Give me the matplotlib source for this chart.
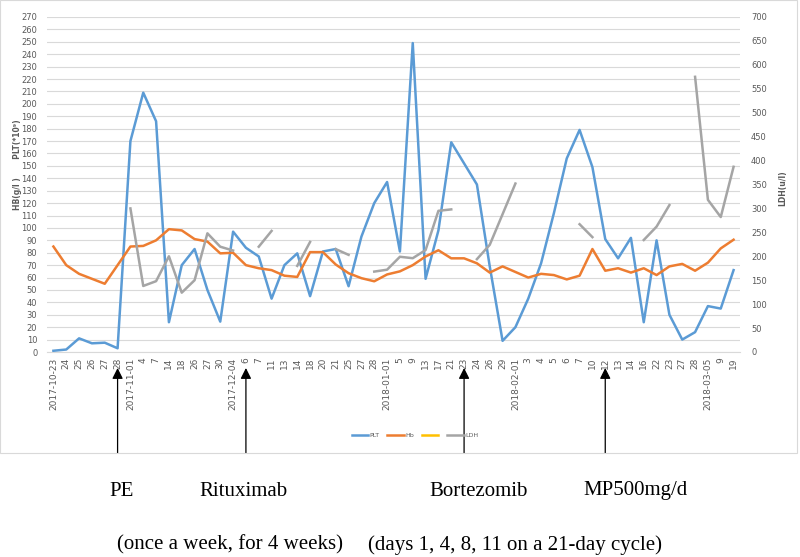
import matplotlib
matplotlib.use('Agg')
import matplotlib.pyplot as plt
from matplotlib.lines import Line2D
from matplotlib.patches import Rectangle
import numpy as np

# sampling dates (category axis)
dates = [
    '2017-10-23', '2017-10-24', '2017-10-25', '2017-10-26', '2017-10-27', '2017-10-28',
    '2017-11-01', '2017-11-04', '2017-11-07', '2017-11-14', '2017-11-18', '2017-11-26',
    '2017-11-27', '2017-11-30',
    '2017-12-04', '2017-12-06', '2017-12-07', '2017-12-11', '2017-12-13', '2017-12-14',
    '2017-12-18', '2017-12-20', '2017-12-21', '2017-12-25', '2017-12-27', '2017-12-28',
    '2018-01-01', '2018-01-05', '2018-01-09', '2018-01-13', '2018-01-17', '2018-01-21',
    '2018-01-23', '2018-01-24', '2018-01-26', '2018-01-29',
    '2018-02-01', '2018-02-03', '2018-02-04', '2018-02-05', '2018-02-06', '2018-02-07',
    '2018-02-10', '2018-02-12', '2018-02-13', '2018-02-14', '2018-02-16', '2018-02-22',
    '2018-02-23', '2018-02-27', '2018-02-28',
    '2018-03-05', '2018-03-09', '2018-03-19',
]

plt_vals = [1, 2, 11, 7, 7.5, 3, 170, 209, 186, 24, 70, 83, 50, 24.5,
            97, 84, 77, 43, 70, 79.5, 45, 81, 83, 53, 93, 120,
            137, 81, 249, 59, 98, 169, 152, 135, 69, 9,
            20, 43, 71.5, 112, 156, 179, 149, 91, 75.5, 92, 24, 90,
            30, 10, 16, 37, 35, 66]

hb_vals = [85, 70, 63, 59, 55, 70, 85, 85.5, 90, 99, 98, 91, 89, 79.5,
           80, 70, 67.5, 66, 61.5, 60.5, 80.5, 80.5, 70.5, 63.5, 59.5, 57,
           62.5, 65, 70, 77, 82, 75.5, 75.5, 71.5, 64, 69,
           64.5, 60, 63, 62, 58.5, 61.5, 83, 65.5, 67.5, 64, 67.5, 62,
           69, 71, 65.5, 72, 83.5, 90.5]

nan = np.nan
ldh_vals = [nan, nan, nan, nan, nan, nan, 300, 138, 148, 200, 124, 150, 248, 220,
            212, nan, 220, 253, nan, 180, 230, nan, 215, 203, nan, 168,
            172, 199, 196, 213, 295, 298, nan, 194, 224, 288,
            352, nan, nan, nan, nan, 267, 240, nan, nan, nan, 234, 262,
            307, nan, 575, 318, 282, 387]

treat_names = ['PE', 'Rituximab', 'Bortezomib', 'MP500mg/d']
treat_dates = ['2017-10-28', '2017-12-06', '2018-01-23', '2018-02-12']

# first date of each month is shown in full, the rest as day numbers
tick_labels = []
prev_month = None
for d in dates:
    month = d[:7]
    tick_labels.append(d if month != prev_month else str(int(d[8:])))
    prev_month = month

x = np.arange(len(dates))
W, H = 800, 557
c_plt, c_hb, c_yel, c_ldh = '#5B9BD5', '#ED7D31', '#FFC000', '#A5A5A5'
txt_gray = '#595959'

fig = plt.figure(figsize=(W / 100, H / 100), dpi=100)
fig.patch.set_facecolor('white')
fig.patches.append(Rectangle((0, 1 - 453 / H), 797 / W, 453 / H, transform=fig.transFigure,
                             fill=False, edgecolor='#D9D9D9', linewidth=0.8))

ax = fig.add_axes([47 / W, 1 - 352 / H, 693 / W, 335 / H])
ax2 = ax.twinx()

ax.plot(x, plt_vals, color=c_plt, lw=1.8, zorder=3)
ax.plot(x, hb_vals, color=c_hb, lw=1.8, zorder=3)
ax2.plot(x, ldh_vals, color=c_ldh, lw=1.8, zorder=3)

ax.set_xlim(-0.5, len(dates) - 0.5)
ax.set_ylim(0, 270)
ax2.set_ylim(0, 700)
ax.set_yticks(np.arange(0, 271, 10))
ax2.set_yticks(np.arange(0, 701, 50))
ax.yaxis.grid(True, color='#D9D9D9', lw=0.8)
ax.set_axisbelow(True)

ax.set_xticks(x)
ax.set_xticklabels(tick_labels, rotation=90, fontsize=6.5, color=txt_gray)
ax.tick_params(axis='x', length=0, pad=4)
ax.tick_params(axis='y', length=0, labelsize=6, labelcolor=txt_gray, pad=7)
ax2.tick_params(axis='y', length=0, labelsize=6, labelcolor=txt_gray, pad=8)

for a in (ax, ax2):
    for s in a.spines.values():
        s.set_visible(False)
ax.spines['bottom'].set_visible(True)
ax.spines['bottom'].set_color('#D9D9D9')

fig.text(18 / W, 1 - 165 / H, 'HB(g/l )       PLT(*10⁹)', rotation=90, fontsize=5.5,
         fontweight='bold', color=txt_gray, ha='center', va='center')
fig.text(783 / W, 1 - 188 / H, 'LDH(u/l)', rotation=90, fontsize=5.5,
         fontweight='bold', color=txt_gray, ha='center', va='center')

# legend (the yellow series has no name)
handles = [Line2D([], [], color=c, lw=1.8) for c in (c_plt, c_hb, c_yel, c_ldh)]
fig.legend(handles, ['PLT', 'Hb', '', 'LDH'], loc='center', bbox_to_anchor=(415 / W, 1 - 435 / H),
           ncol=4, fontsize=4.5, frameon=False, handlelength=2.6, handletextpad=0.3,
           columnspacing=1.2, labelcolor=txt_gray)

# treatment arrows
tip = (352 - 368) / 335
base = (352 - 453) / 335
for d in treat_dates:
    i = dates.index(d)
    ax.annotate('', xy=(i, tip), xytext=(i, base), xycoords=ax.get_xaxis_transform(),
                annotation_clip=False,
                arrowprops=dict(arrowstyle='-|>', color='black', lw=0.9, mutation_scale=16,
                                shrinkA=0, shrinkB=0))

serif = 'Liberation Serif'
name_x = [122, 243, 479, 635]
for name, px in zip(treat_names, name_x):
    fig.text(px / W, 1 - 491 / H, name, fontsize=15, family=serif, ha='center', va='center')
fig.text(230 / W, 1 - 545 / H, '(once a week, for 4 weeks)', fontsize=15, family=serif,
         ha='center', va='center')
fig.text(515 / W, 1 - 545 / H, '(days 1, 4, 8, 11 on a 21-day cycle)', fontsize=15,
         family=serif, ha='center', va='center')

plt.savefig('out.png', dpi=100, facecolor='white')
